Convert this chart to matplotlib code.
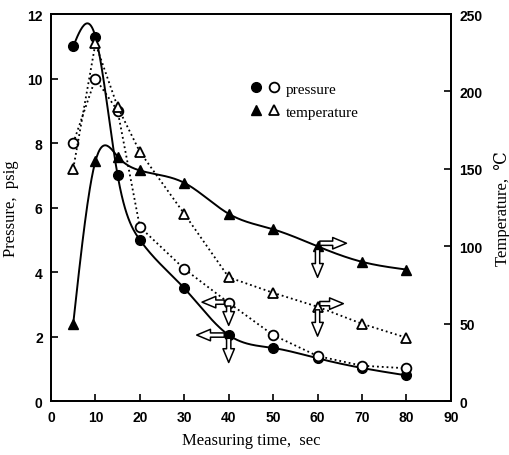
import matplotlib
matplotlib.use("Agg")
import matplotlib.pyplot as plt
import numpy as np
from matplotlib.legend_handler import HandlerTuple

# data
time_s = [5, 10, 15, 20, 30, 40, 50, 60, 70, 80]
press_solid = [11.0, 11.3, 7.0, 5.0, 3.5, 2.05, 1.65, 1.33, 1.03, 0.8]
press_open = [8.0, 10.0, 9.0, 5.4, 4.1, 3.05, 2.05, 1.4, 1.1, 1.02]
temp_solid = [50, 155, 158, 149, 141, 121, 111, 100, 90, 85]
temp_open = [150, 231, 190, 161, 121, 80, 70, 61, 50, 41]

serif = ["Liberation Serif", "DejaVu Serif"]
sans_bold = dict(family="Liberation Sans", weight="bold", size=10)


def natural_spline(x, y, n=400):
    # natural cubic spline through the points, used only to draw the smooth curve
    x = np.asarray(x, float)
    y = np.asarray(y, float)
    k = len(x)
    h = np.diff(x)
    A = np.zeros((k, k))
    b = np.zeros(k)
    A[0, 0] = A[-1, -1] = 1
    for i in range(1, k - 1):
        A[i, i - 1] = h[i - 1]
        A[i, i] = 2 * (h[i - 1] + h[i])
        A[i, i + 1] = h[i]
        b[i] = 6 * ((y[i + 1] - y[i]) / h[i] - (y[i] - y[i - 1]) / h[i - 1])
    m = np.linalg.solve(A, b)
    xs = np.linspace(x[0], x[-1], n)
    idx = np.clip(np.searchsorted(x, xs) - 1, 0, k - 2)
    x0, x1 = x[idx], x[idx + 1]
    hh = x1 - x0
    t0, t1 = x1 - xs, xs - x0
    ys = (m[idx] * t0 ** 3 + m[idx + 1] * t1 ** 3) / (6 * hh) \
        + (y[idx] / hh - m[idx] * hh / 6) * t0 \
        + (y[idx + 1] / hh - m[idx + 1] * hh / 6) * t1
    return xs, ys


fig = plt.figure(figsize=(5.1, 4.56), dpi=100)
ax = fig.add_axes([0.1, 0.118, 0.784, 0.849])
ax2 = ax.twinx()

# pressure (left axis)
xs, ys = natural_spline(time_s, press_solid)
ax.plot(xs, ys, color="black", lw=1.4)
h_pf, = ax.plot(time_s, press_solid, "o", color="black", ms=7)
ax.plot(time_s, press_open, ":", color="black", lw=1.3)
h_po, = ax.plot(time_s, press_open, "o", mfc="white", mec="black", mew=1.3, ms=7, ls="none")

# temperature (right axis)
xs, ys = natural_spline(time_s, temp_solid)
ax2.plot(xs, ys, color="black", lw=1.4)
h_tf, = ax2.plot(time_s, temp_solid, "^", color="black", ms=7)
ax2.plot(time_s, temp_open, ":", color="black", lw=1.3)
h_to, = ax2.plot(time_s, temp_open, "^", mfc="white", mec="black", mew=1.3, ms=7, ls="none")

# hollow arrows showing which axis each series belongs to
arrow = dict(arrowstyle="simple,head_width=0.75,head_length=0.9,tail_width=0.28",
             fc="white", ec="black", lw=1.1, shrinkA=0, shrinkB=0, mutation_scale=11)
ax.annotate("", xy=(32.8, 2.05), xytext=(39.0, 2.05), arrowprops=arrow)
ax.annotate("", xy=(40, 1.2), xytext=(40, 1.95), arrowprops=arrow)
ax.annotate("", xy=(34.0, 3.07), xytext=(39.0, 3.07), arrowprops=arrow)
ax.annotate("", xy=(40, 2.35), xytext=(40, 2.95), arrowprops=arrow)
ax2.annotate("", xy=(66.5, 102), xytext=(60.5, 102), arrowprops=arrow)
ax2.annotate("", xy=(60, 80), xytext=(60, 98), arrowprops=arrow)
ax2.annotate("", xy=(65.8, 63), xytext=(60.5, 63), arrowprops=arrow)
ax2.annotate("", xy=(60, 42), xytext=(60, 59), arrowprops=arrow)

ax.set_xlim(0, 90)
ax.set_ylim(0, 12)
ax2.set_ylim(0, 250)
ax.set_xticks(range(0, 91, 10))
ax.set_yticks(range(0, 13, 2))
ax2.set_yticks(range(0, 251, 50))

ax.tick_params(direction="in", length=5, width=1.2, top=False, right=False, pad=6)
ax2.tick_params(direction="in", length=5, width=1.2, pad=6)
for lab in ax.get_xticklabels() + ax.get_yticklabels() + ax2.get_yticklabels():
    lab.set_fontproperties(sans_bold)
for a in (ax, ax2):
    for s in a.spines.values():
        s.set_linewidth(1.3)

ax.set_xlabel("Measuring time,  sec", family=serif, fontsize=12, labelpad=6)
ax.set_ylabel("Pressure,  psig", family=serif, fontsize=12, labelpad=6)
ax2.set_ylabel("Temperature,  ℃", family=serif, fontsize=12, labelpad=8)

leg = ax2.legend([(h_pf, h_po), (h_tf, h_to)], ["pressure", "temperature"],
                 handler_map={tuple: HandlerTuple(ndivide=None, pad=0.5)},
                 loc="upper left", bbox_to_anchor=(0.465, 0.86), frameon=False,
                 prop=dict(family=serif, size=11), handlelength=1.9,
                 handletextpad=0.4, labelspacing=0.6)

fig.savefig("out.png", dpi=100)
